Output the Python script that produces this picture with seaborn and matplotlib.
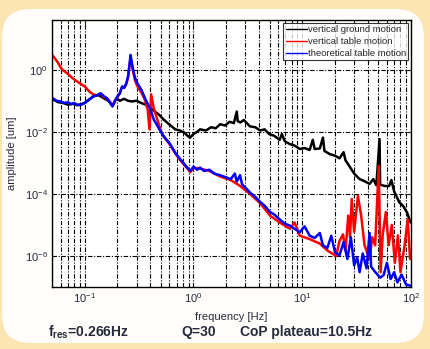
import seaborn as sns
import matplotlib.pyplot as plt
from matplotlib.patches import FancyBboxPatch
from matplotlib.transforms import IdentityTransform
from matplotlib.ticker import LogLocator, FixedLocator, NullLocator, NullFormatter

# vertical ground motion (black)
ground_freq = [
    0.051, 0.057, 0.063, 0.07, 0.078, 0.085, 0.093, 0.1, 0.11, 0.12,
    0.135, 0.15, 0.165, 0.18, 0.196, 0.21, 0.23, 0.25, 0.27, 0.3,
    0.33, 0.36, 0.4, 0.44, 0.48, 0.53, 0.58, 0.63, 0.68, 0.75,
    0.82, 0.88, 0.93, 1.0, 1.08, 1.15, 1.3, 1.45, 1.6, 1.76,
    1.95, 2.15, 2.35, 2.5, 2.55, 2.7, 2.9, 3.3, 3.7, 4.1,
    4.5, 5.0, 5.5, 6.2, 6.5, 6.9, 7.7, 8.5, 9.5, 10.5,
    11.7, 12.5, 13.0, 14.5, 15.5, 16.0, 18.0, 20.0, 22.0, 24.0,
    25.0, 27.0, 30.0, 33.7, 37.0, 41.6, 45.0, 48.0, 51.4, 52.0,
    57.0, 63.0, 66.0, 70.0, 78.0, 85.0, 92.0, 99.0]
ground_amp = [
    0.11, 0.09, 0.085, 0.075, 0.08, 0.072, 0.078, 0.085, 0.11, 0.14,
    0.15, 0.12, 0.1, 0.068, 0.12, 0.1, 0.115, 0.1, 0.095, 0.1,
    0.085, 0.076, 0.06, 0.045, 0.036, 0.025, 0.019, 0.015, 0.012, 0.011,
    0.0095, 0.0075, 0.0065, 0.0085, 0.01, 0.012, 0.011, 0.014, 0.013, 0.0175,
    0.016, 0.021, 0.019, 0.045, 0.022, 0.02, 0.024, 0.015, 0.014, 0.011,
    0.012, 0.0083, 0.0075, 0.0055, 0.0085, 0.005, 0.004, 0.0036, 0.0028, 0.003,
    0.0026, 0.0055, 0.0028, 0.0029, 0.0065, 0.0024, 0.0019, 0.0017, 0.0014, 0.0022,
    0.0012, 0.0008, 0.00045, 3e-4, 2.6e-4, 2.1e-4, 3e-4, 1.9e-4, 5.8e-3, 2e-4,
    1.8e-4, 1.8e-4, 2.8e-4, 1.2e-4, 5.4e-5, 4e-5, 2.5e-5, 1.2e-5]

# vertical table motion (red)
table_freq = [
    0.051, 0.056, 0.062, 0.068, 0.077, 0.085, 0.093, 0.1, 0.11, 0.12,
    0.13, 0.14, 0.15, 0.16, 0.17, 0.18, 0.19, 0.2, 0.21, 0.221,
    0.23, 0.24, 0.25, 0.258, 0.264, 0.27, 0.28, 0.29, 0.304, 0.333,
    0.36, 0.38, 0.394, 0.408, 0.43, 0.46, 0.5, 0.532, 0.61, 0.68,
    0.757, 0.85, 0.935, 1.0, 1.15, 1.4, 1.76, 2.2, 2.68, 3.31,
    4.1, 5.05, 6.2, 7.7, 8.5, 9.5, 11.7, 14.5, 17.0, 20.5,
    22.0, 23.7, 25.0, 26.5, 27.5, 28.5, 30.0, 32.5, 34.8, 37.4,
    41.6, 44.0, 46.8, 50.5, 52.6, 55.0, 58.7, 62.3, 66.6, 71.0,
    75.8, 80.0, 87.4, 93.2, 98.0]
table_amp = [
    2.8, 1.8, 1.0, 0.8, 0.54, 0.42, 0.34, 0.29, 0.2, 0.16,
    0.15, 0.17, 0.13, 0.12, 0.095, 0.07, 0.1, 0.13, 0.18, 0.28,
    0.26, 0.33, 0.55, 1.3, 2.6, 1.6, 0.8, 0.45, 0.3, 0.18,
    0.1, 0.05, 0.012, 0.16, 0.06, 0.028, 0.011, 0.007, 0.0038, 0.002,
    0.0012, 0.00075, 0.0005, 0.0007, 0.00065, 0.00055, 0.00036, 0.00028, 0.00018, 0.0001,
    5e-5, 2e-5, 1.2e-5, 7.5e-6, 1.2e-5, 4.5e-6, 3.5e-6, 2.5e-6, 1.5e-6, 1e-6,
    3e-6, 5e-6, 1.5e-6, 2e-5, 4e-6, 6.8e-5, 6e-6, 8.7e-5, 2e-5, 2.2e-6,
    8e-7, 4e-6, 2.2e-6, 8e-4, 3e-7, 5e-6, 2.6e-5, 2.2e-6, 1e-5, 6e-7,
    4.6e-6, 3e-7, 2.2e-6, 1.5e-5, 8e-7]

# theoretical table motion (blue)
theory_freq = [
    0.051, 0.055, 0.06, 0.065, 0.07, 0.075, 0.08, 0.085, 0.09, 0.095,
    0.1, 0.11, 0.121, 0.13, 0.14, 0.15, 0.16, 0.17, 0.18, 0.19,
    0.2, 0.21, 0.221, 0.23, 0.24, 0.25, 0.258, 0.264, 0.27, 0.28,
    0.29, 0.304, 0.333, 0.362, 0.4, 0.431, 0.48, 0.532, 0.61, 0.68,
    0.757, 0.85, 0.935, 1.0, 1.08, 1.15, 1.25, 1.4, 1.55, 1.76,
    1.95, 2.2, 2.4, 2.5, 2.68, 2.8, 3.0, 3.31, 3.7, 4.1,
    4.5, 5.05, 5.5, 6.2, 6.9, 7.7, 8.5, 9.5, 10.5, 11.7,
    13.0, 14.5, 15.5, 17.0, 18.5, 20.0, 22.0, 24.0, 26.0, 28.0,
    30.0, 32.0, 33.7, 36.0, 39.0, 41.6, 43.0, 47.0, 52.0, 56.0,
    60.0, 65.0, 70.0, 75.0, 82.0, 90.0, 99.0]
theory_amp = [
    0.12, 0.1, 0.095, 0.085, 0.09, 0.078, 0.085, 0.075, 0.072, 0.078,
    0.085, 0.11, 0.14, 0.15, 0.175, 0.14, 0.12, 0.09, 0.066, 0.1,
    0.14, 0.17, 0.29, 0.26, 0.35, 0.6, 1.5, 3.0, 1.8, 0.9,
    0.55, 0.37, 0.22, 0.11, 0.055, 0.025, 0.013, 0.0072, 0.004, 0.0021,
    0.0013, 0.0008, 0.00055, 0.00075, 0.0006, 0.0007, 0.00055, 0.0006, 0.00045, 0.0004,
    0.00035, 0.0003, 0.00045, 0.00025, 0.0004, 0.0002, 0.00016, 0.00011, 8e-5, 5.5e-5,
    4.2e-5, 2.6e-5, 2.2e-5, 1.5e-5, 1.1e-5, 9.5e-6, 7.5e-6, 5.8e-6, 9e-6, 4.5e-6,
    3.8e-6, 5.5e-6, 2.2e-6, 1.8e-6, 4.5e-6, 1.3e-6, 1.05e-6, 2.8e-6, 8e-7, 4e-6,
    5e-7, 9e-7, 3e-7, 1.2e-6, 4e-7, 5.5e-6, 4.5e-7, 3e-7, 2e-7, 2.4e-7,
    6e-7, 1.8e-7, 3e-7, 1.4e-7, 2.5e-7, 1.2e-7, 1.1e-7]

labels = ["vertical ground motion", "vertical table motion", "theoretical table motion"]
colors = ["black", "red", "blue"]

sns.set_style("white")
plt.rcParams['font.family'] = ['Liberation Sans', 'DejaVu Sans']
plt.rcParams['mathtext.fontset'] = 'custom'
plt.rcParams['mathtext.rm'] = 'Liberation Sans'
plt.rcParams['mathtext.it'] = 'Liberation Sans:italic'
plt.rcParams['mathtext.bf'] = 'Liberation Sans:bold'

text_col = '#262a3a'

fig = plt.figure(figsize=(4.31, 3.49), dpi=100, facecolor='#fce4b3')
panel = FancyBboxPatch((2, 6), 422, 334, boxstyle='round,pad=0,rounding_size=28',
                       transform=IdentityTransform(), facecolor='#fffefb',
                       edgecolor='none', zorder=-5)
fig.add_artist(panel)

ax = fig.add_axes([52 / 431, 62 / 349, 359 / 431, 267 / 349])
ax.set_xscale('log')
ax.set_yscale('log')

series = [(ground_freq, ground_amp), (table_freq, table_amp), (theory_freq, theory_amp)]
for (f, a), col, lab in zip(series, colors, labels):
    sns.lineplot(x=f, y=a, ax=ax, color=col, lw=1.8, label=lab, sort=False, estimator=None)

ax.set_xlim(0.05, 100)
ax.set_ylim(1e-7, 40)

ax.xaxis.set_major_locator(LogLocator(base=10))
ax.xaxis.set_minor_locator(LogLocator(base=10, subs=range(2, 10)))
ax.xaxis.set_minor_formatter(NullFormatter())
ax.yaxis.set_major_locator(FixedLocator([1e-6, 1e-4, 1e-2, 1e0]))
ax.yaxis.set_minor_locator(NullLocator())

grid_ls = (0, (4, 1.5, 1, 1.5))
ax.grid(True, which='major', axis='both', color='black', linestyle=grid_ls, lw=0.8)
ax.grid(True, which='minor', axis='x', color='black', linestyle=grid_ls, lw=0.8)
ax.set_axisbelow(True)

ax.tick_params(which='both', direction='in', top=True, right=True, width=0.8,
               labelsize=8, labelcolor=text_col, pad=3)
ax.tick_params(which='major', length=4)
ax.tick_params(which='minor', length=2)
for s in ax.spines.values():
    s.set_color('black')
    s.set_linewidth(1.0)

ax.set_xlabel("frequency [Hz]", fontsize=8, color=text_col)
ax.set_ylabel("amplitude [um]", fontsize=8, color=text_col)
ax.xaxis.set_label_coords(0.5, -0.095)
ax.yaxis.set_label_coords(-0.098, 0.5)

leg = ax.legend(loc='upper right', fontsize=6.8, frameon=True, fancybox=False,
                borderaxespad=0.3, handlelength=2.2, handletextpad=0.1,
                labelspacing=0.3, borderpad=0.25)
leg.get_frame().set_edgecolor('black')
leg.get_frame().set_linewidth(0.8)
for line in leg.get_lines():
    line.set_linewidth(1.0)

fig.text(48 / 431, 0.049, r"f$_{\mathbf{res}}$=0.266Hz", fontsize=10,
         fontweight='bold', color=text_col, va='center')
fig.text(181 / 431, 0.049, "Q=30", fontsize=10, fontweight='bold',
         color=text_col, va='center')
fig.text(240 / 431, 0.049, "CoP plateau=10.5Hz", fontsize=10, fontweight='bold',
         color=text_col, va='center')

fig.savefig('out.png', dpi=100, facecolor=fig.get_facecolor())
